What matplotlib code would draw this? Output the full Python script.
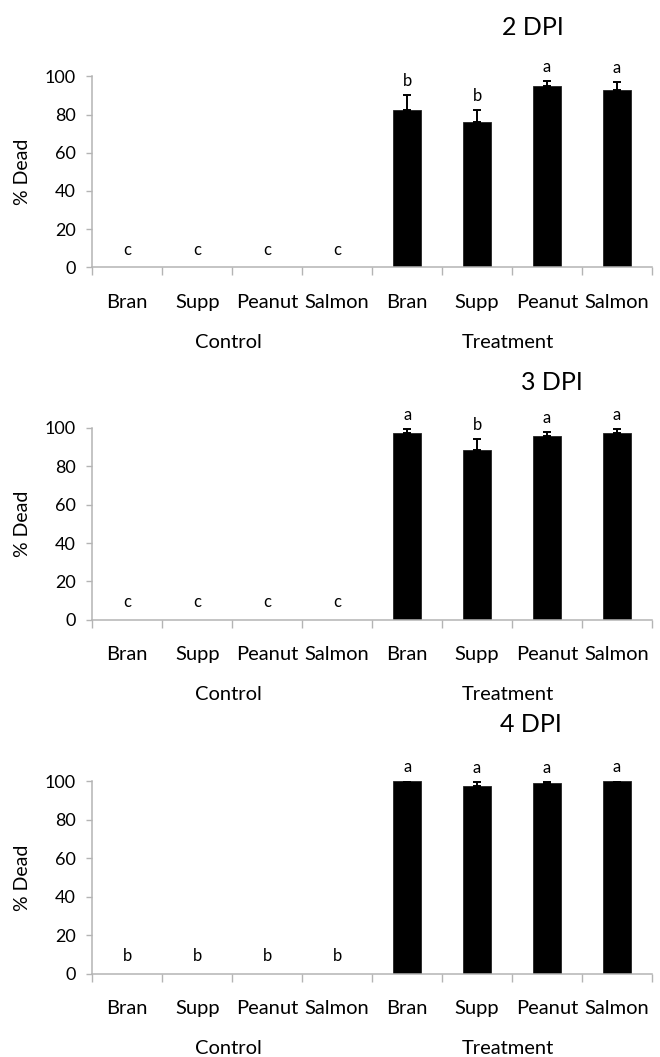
import numpy as np
import matplotlib
matplotlib.use("Agg")
import matplotlib.pyplot as plt

plt.rcParams['font.family'] = ['Lato', 'DejaVu Sans']

# categories
foods = ['Bran', 'Supp', 'Peanut', 'Salmon']
groups = ['Control', 'Treatment']
titles = ['2 DPI', '3 DPI', '4 DPI']

# % dead, control groups (all zero) and treatment groups, with upper error
control_2dpi = [0, 0, 0, 0]
control_3dpi = [0, 0, 0, 0]
control_4dpi = [0, 0, 0, 0]
treat_2dpi = [82.2, 76.0, 94.7, 92.6]
treat_3dpi = [97.2, 88.5, 95.8, 97.2]
treat_4dpi = [100.0, 97.4, 98.8, 100.0]
err_2dpi = [7.8, 6.5, 3.0, 4.2]
err_3dpi = [2.3, 6.0, 2.3, 2.1]
err_4dpi = [0.0, 2.2, 0.8, 0.0]

# significance letters: control then treatment
letters_2dpi = ['c', 'c', 'c', 'c', 'b', 'b', 'a', 'a']
letters_3dpi = ['c', 'c', 'c', 'c', 'a', 'b', 'a', 'a']
letters_4dpi = ['b', 'b', 'b', 'b', 'a', 'a', 'a', 'a']

panels = [
    (titles[0], control_2dpi, treat_2dpi, err_2dpi, letters_2dpi),
    (titles[1], control_3dpi, treat_3dpi, err_3dpi, letters_3dpi),
    (titles[2], control_4dpi, treat_4dpi, err_4dpi, letters_4dpi),
]

W, H = 660, 1057
fig = plt.figure(figsize=(W / 100, H / 100), dpi=100)

# axes boxes in pixels: (left, right, y of 0, y of 100)
boxes = [(92.3, 652, 267.3, 76.3), (92.3, 652, 619.7, 428), (92.3, 652, 974, 781)]
title_pos = [(533, 27.5), (552, 383), (531, 725)]
grey = '#B4B4B4'

for (title, ctrl, treat, err, letters), box, tpos in zip(panels, boxes, title_pos):
    l, r, y0, y100 = box
    ax = fig.add_axes([l / W, (H - y0) / H, (r - l) / W, (y0 - y100) / H])

    vals = list(ctrl) + list(treat)
    errs = [0, 0, 0, 0] + list(err)
    x = np.arange(len(vals)) + 0.5
    ax.bar(x, vals, width=0.4, color='black', edgecolor='#222222', linewidth=0.6, zorder=2)
    tx = x[4:]
    ax.errorbar(tx, treat, yerr=[np.zeros(4), err], fmt='none', ecolor='black',
                elinewidth=1.4, capsize=2.8, capthick=1.4, zorder=3)

    for xi, v, e, lab in zip(x, vals, errs, letters):
        if v == 0:
            ax.text(xi, 6.5, lab, ha='center', va='baseline', fontsize=12)
        else:
            ax.annotate(lab, (xi, v + e), xytext=(0, 6.5), textcoords='offset points',
                        ha='center', va='baseline', fontsize=12, annotation_clip=False)

    ax.set_xlim(0, 8)
    ax.set_ylim(0, 100)
    ax.set_yticks(np.arange(0, 101, 20))
    ax.set_xticks(x)
    ax.set_xticklabels(foods * 2, fontsize=14.5)
    ax.set_xticks(np.arange(0, 9), minor=True)
    ax.tick_params(axis='x', which='major', length=0, pad=19)
    ax.tick_params(axis='x', which='minor', length=5.5, color=grey, width=1)
    ax.tick_params(axis='y', length=4, color=grey, width=1, pad=8, labelsize=13)

    for side in ['top', 'right']:
        ax.spines[side].set_visible(False)
    for side in ['left', 'bottom']:
        ax.spines[side].set_color(grey)
        ax.spines[side].set_linewidth(1.1)

    ax.text((23 - l) / (r - l), 0.5, '% Dead', transform=ax.transAxes, rotation=90,
            ha='center', va='center', fontsize=14)

    for gi, g in enumerate(groups):
        ax.annotate(g, (gi * 4 + 2, 0), xycoords=('data', 'axes fraction'),
                    xytext=(-3, -54), textcoords='offset points',
                    ha='center', va='center', fontsize=14.5, annotation_clip=False)

    fig.text(tpos[0] / W, 1 - tpos[1] / H, title, ha='center', va='center', fontsize=18)

fig.savefig('out.png', dpi=100, facecolor='white')
